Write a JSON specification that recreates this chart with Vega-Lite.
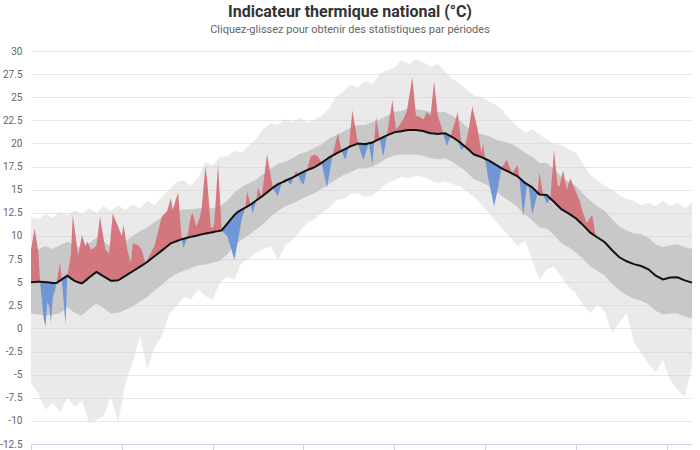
{
"$schema":"https://vega.github.io/schema/vega-lite/v6.json",
"width":661,"height":393,
"autosize":{"type":"none"},
"padding":{"left":31,"top":51,"right":8,"bottom":6},
"background":"white",
"title":{"text":"Indicateur thermique national (°C)","subtitle":"Cliquez-glissez pour obtenir des statistiques par périodes","anchor":"middle","dx":-11.5,"offset":11,"font":"Roboto","fontSize":16,"fontWeight":"bold","color":"#333333","subtitleFont":"Roboto","subtitleFontSize":11,"subtitleColor":"#666666","subtitlePadding":4},
"config":{"view":{"stroke":null},"axisY":{"labelOverlap":false,"labelBound":false,"labelFlush":false,"title":null,"grid":true,"gridColor":"#e6e6e6","ticks":false,"domain":false,"labelPadding":9,"labelColor":"#666666","labelFont":"Roboto","labelFontSize":10}},
"data":{"values":[
{"d":0,"n":5.0,"nlo":1.6,"nhi":8.2,"lo":-5.9,"hi":12.0,"a":8.5},
{"d":2,"n":5.02,"a":10.8},
{"d":4,"n":5.05,"nlo":1.5,"nhi":8.6,"lo":-7.0,"hi":11.8,"a":8.3},
{"d":5,"n":5.05,"a":5.1},
{"d":7,"n":5.02,"a":1.0},
{"d":8,"n":5.0,"nlo":1.4,"nhi":8.9,"lo":-8.8,"hi":12.4,"a":0.2},
{"d":9,"n":4.98,"a":2.8},
{"d":10,"n":4.96,"a":2.4},
{"d":11,"n":4.94,"a":0.6},
{"d":12,"n":4.92,"nlo":1.5,"nhi":8.6,"lo":-8.0,"hi":12.0,"a":3.4},
{"d":13,"n":4.91,"a":4.0},
{"d":14,"n":4.9,"a":4.9},
{"d":16,"n":5.17,"nlo":1.6,"nhi":9.0,"lo":-9.1,"hi":12.6,"a":7.1},
{"d":17,"n":5.3,"a":5.3},
{"d":19,"n":5.57,"a":0.4},
{"d":20,"n":5.7,"nlo":2.3,"nhi":9.4,"lo":-7.4,"hi":12.2,"a":5.7},
{"d":22,"n":5.41,"a":8.0},
{"d":23,"n":5.27,"a":12.3},
{"d":24,"n":5.13,"nlo":1.7,"nhi":9.0,"lo":-8.5,"hi":12.8},
{"d":26,"n":4.99,"a":7.8},
{"d":28,"n":4.86,"nlo":1.4,"nhi":8.7,"lo":-7.8,"hi":12.4,"a":10.1},
{"d":30,"n":5.17,"a":8.9},
{"d":31,"n":5.33,"a":9.4},
{"d":32,"n":5.5,"nlo":2.1,"nhi":9.2,"lo":-10.2,"hi":13.0},
{"d":33,"n":5.65,"a":8.5},
{"d":36,"n":6.1,"nlo":2.7,"nhi":9.8,"lo":-9.9,"hi":12.5,"a":8.9},
{"d":38,"n":5.86,"a":12.1},
{"d":40,"n":5.63,"nlo":2.2,"nhi":9.4,"lo":-9.5,"hi":13.2},
{"d":41,"n":5.51,"a":8.5},
{"d":43,"n":5.27,"a":8.1},
{"d":44,"n":5.15,"nlo":1.6,"nhi":8.8,"lo":-7.4,"hi":12.7},
{"d":45,"n":5.16,"a":12.4},
{"d":48,"n":5.2,"nlo":1.7,"nhi":9.1,"lo":-10.2,"hi":13.3,"a":11.0},
{"d":50,"n":5.44,"a":10.0},
{"d":51,"n":5.57,"a":11.2},
{"d":52,"n":5.69,"nlo":2.0,"nhi":9.4,"lo":-5.9,"hi":12.8},
{"d":53,"n":5.81,"a":8.5},
{"d":55,"n":6.05,"a":7.1},
{"d":56,"n":6.18,"nlo":2.4,"nhi":10.0,"lo":-3.7,"hi":13.4,"a":9.2},
{"d":59,"n":6.55,"a":9.0},
{"d":60,"n":6.68,"nlo":2.9,"nhi":10.5,"lo":-0.8,"hi":13.0},
{"d":61,"n":6.8,"a":8.5},
{"d":63,"n":7.05,"a":7.05},
{"d":64,"n":7.2,"nlo":3.4,"nhi":10.9,"lo":-4.5,"hi":13.8},
{"d":65,"n":7.35,"a":7.8},
{"d":68,"n":7.8,"nlo":4.1,"nhi":11.5,"lo":-2.0,"hi":13.3,"a":8.9},
{"d":72,"n":8.41,"nlo":4.7,"nhi":12.0,"lo":-0.9,"hi":14.2,"a":12.1},
{"d":75,"n":8.88,"a":12.7},
{"d":76,"n":9.04,"nlo":5.4,"nhi":12.5,"lo":1.5,"hi":15.0},
{"d":77,"n":9.2,"a":14.1},
{"d":78,"n":9.28,"a":12.8},
{"d":80,"n":9.43,"nlo":5.9,"nhi":12.7,"lo":2.4,"hi":15.8},
{"d":81,"n":9.5,"a":14.7},
{"d":83,"n":9.65,"a":9.65},
{"d":84,"n":9.7,"nlo":6.2,"nhi":12.9,"lo":3.4,"hi":16.0,"a":8.7},
{"d":86,"n":9.8,"a":9.8},
{"d":88,"n":9.9,"nlo":6.5,"nhi":12.9,"lo":3.1,"hi":15.4,"a":12.1},
{"d":89,"n":9.94,"a":12.5},
{"d":91,"n":10.03,"a":11.0},
{"d":92,"n":10.08,"nlo":6.8,"nhi":13.0,"lo":4.2,"hi":16.2},
{"d":93,"n":10.12,"a":12.0},
{"d":94,"n":10.17,"a":13.0},
{"d":96,"n":10.26,"nlo":6.9,"nhi":13.0,"lo":3.5,"hi":18.0,"a":17.5},
{"d":97,"n":10.3,"a":16.1},
{"d":99,"n":10.37,"a":11.0},
{"d":100,"n":10.41,"nlo":7.1,"nhi":13.0,"lo":3.1,"hi":17.6,"a":10.8},
{"d":101,"n":10.45,"a":11.5},
{"d":103,"n":10.52,"a":17.8},
{"d":104,"n":10.56,"nlo":7.3,"nhi":13.2,"lo":5.0,"hi":18.5},
{"d":105,"n":10.6,"a":10.6},
{"d":108,"n":11.31,"nlo":8.0,"nhi":13.8,"lo":5.6,"hi":18.6,"a":10.0},
{"d":110,"n":11.79,"a":8.8},
{"d":112,"n":12.26,"nlo":9.0,"nhi":14.7,"lo":5.3,"hi":19.2,"a":7.4},
{"d":114,"n":12.61,"a":9.5},
{"d":116,"n":12.84,"nlo":9.6,"nhi":15.3,"lo":7.1,"hi":19.0,"a":11.8},
{"d":118,"n":13.06,"a":13.06},
{"d":119,"n":13.17,"a":14.8},
{"d":120,"n":13.29,"nlo":10.1,"nhi":15.7,"lo":7.6,"hi":19.8},
{"d":121,"n":13.4,"a":13.4},
{"d":122,"n":13.54,"a":12.4},
{"d":124,"n":13.83,"nlo":10.7,"nhi":16.1,"lo":8.2,"hi":20.5,"a":13.83},
{"d":125,"n":13.97,"a":15.3},
{"d":127,"n":14.25,"a":14.25},
{"d":128,"n":14.4,"nlo":11.3,"nhi":16.7,"lo":8.6,"hi":21.6},
{"d":130,"n":14.71,"a":18.8},
{"d":132,"n":15.03,"nlo":12.1,"nhi":17.3,"lo":8.9,"hi":22.2},
{"d":133,"n":15.19,"a":15.4},
{"d":136,"n":15.59,"nlo":12.7,"nhi":17.8,"lo":7.4,"hi":22.0,"a":14.3},
{"d":138,"n":15.76,"a":15.76},
{"d":140,"n":15.94,"nlo":13.2,"nhi":18.0,"lo":9.0,"hi":22.6,"a":16.2},
{"d":141,"n":16.05,"a":16.05},
{"d":143,"n":16.22,"a":15.5},
{"d":144,"n":16.31,"nlo":13.5,"nhi":18.4,"lo":9.6,"hi":22.3},
{"d":145,"n":16.42,"a":16.42},
{"d":146,"n":16.53,"a":17.1},
{"d":147,"n":16.63,"a":16.63},
{"d":148,"n":16.74,"nlo":13.9,"nhi":18.9,"lo":10.5,"hi":22.8,"a":16.1},
{"d":150,"n":16.93,"a":15.5},
{"d":152,"n":17.11,"nlo":14.3,"nhi":19.1,"lo":11.4,"hi":22.2,"a":17.11},
{"d":154,"n":17.27,"a":18.6},
{"d":156,"n":17.42,"nlo":14.6,"nhi":19.5,"lo":11.8,"hi":22.6,"a":18.8},
{"d":158,"n":17.66,"a":18.6},
{"d":160,"n":17.91,"nlo":15.1,"nhi":19.9,"lo":12.5,"hi":23.0,"a":17.91},
{"d":163,"n":18.32,"a":15.2},
{"d":164,"n":18.46,"nlo":15.6,"nhi":20.5,"lo":13.0,"hi":23.8},
{"d":166,"n":18.68,"a":18.68},
{"d":168,"n":18.9,"nlo":16.1,"nhi":20.9,"lo":13.9,"hi":25.0},
{"d":169,"n":19.0,"a":21.1},
{"d":171,"n":19.2,"a":19.2},
{"d":172,"n":19.3,"nlo":16.6,"nhi":21.3,"lo":14.0,"hi":25.6},
{"d":173,"n":19.4,"a":18.2},
{"d":175,"n":19.6,"a":19.6},
{"d":176,"n":19.7,"nlo":16.9,"nhi":21.7,"lo":14.6,"hi":26.4},
{"d":177,"n":19.77,"a":23.6},
{"d":180,"n":19.99,"nlo":17.3,"nhi":22.0,"lo":14.6,"hi":26.0,"a":19.99},
{"d":183,"n":19.95,"a":18.2},
{"d":184,"n":19.93,"nlo":17.3,"nhi":22.0,"lo":14.2,"hi":26.8},
{"d":186,"n":20.02,"a":20.02},
{"d":188,"n":20.1,"nlo":17.5,"nhi":22.3,"lo":14.4,"hi":26.4,"a":17.7},
{"d":189,"n":20.2,"a":20.2},
{"d":190,"n":20.3,"a":22.9},
{"d":192,"n":20.5,"nlo":17.9,"nhi":22.6,"lo":15.0,"hi":27.5,"a":20.5},
{"d":194,"n":20.69,"a":18.6},
{"d":196,"n":20.88,"nlo":18.4,"nhi":23.0,"lo":15.7,"hi":27.9,"a":20.88},
{"d":199,"n":21.12,"a":24.7},
{"d":200,"n":21.2,"nlo":18.7,"nhi":23.4,"lo":16.0,"hi":28.2},
{"d":201,"n":21.23,"a":21.5},
{"d":203,"n":21.3,"a":22.0},
{"d":204,"n":21.33,"nlo":18.8,"nhi":23.5,"lo":16.4,"hi":29.0},
{"d":205,"n":21.37,"a":22.6},
{"d":207,"n":21.44,"a":23.5},
{"d":208,"n":21.47,"nlo":18.8,"nhi":23.8,"lo":16.2,"hi":28.6},
{"d":210,"n":21.46,"a":27.2},
{"d":212,"n":21.45,"nlo":18.8,"nhi":23.7,"lo":16.5,"hi":29.1,"a":23.0},
{"d":214,"n":21.4,"a":22.9},
{"d":216,"n":21.34,"nlo":18.7,"nhi":23.6,"lo":16.4,"hi":28.8,"a":22.6},
{"d":218,"n":21.22,"a":23.4},
{"d":220,"n":21.11,"nlo":18.4,"nhi":23.4,"lo":16.0,"hi":28.3,"a":23.0},
{"d":222,"n":21.07,"a":26.7},
{"d":224,"n":21.03,"nlo":18.3,"nhi":23.4,"lo":15.7,"hi":28.6,"a":23.0},
{"d":226,"n":21.07,"a":21.8},
{"d":227,"n":21.09,"a":21.09},
{"d":228,"n":21.1,"nlo":18.4,"nhi":23.4,"lo":15.9,"hi":27.8},
{"d":229,"n":21.0,"a":19.7},
{"d":231,"n":20.8,"a":20.8},
{"d":232,"n":20.7,"nlo":18.0,"nhi":23.0,"lo":15.6,"hi":27.0},
{"d":233,"n":20.56,"a":22.0},
{"d":235,"n":20.29,"a":23.4},
{"d":236,"n":20.15,"nlo":17.5,"nhi":22.5,"lo":15.4,"hi":26.5},
{"d":237,"n":19.99,"a":19.3},
{"d":239,"n":19.68,"a":19.68},
{"d":240,"n":19.52,"nlo":16.9,"nhi":21.8,"lo":14.8,"hi":25.8},
{"d":241,"n":19.34,"a":21.5},
{"d":243,"n":18.98,"a":24.0},
{"d":244,"n":18.8,"nlo":16.1,"nhi":21.2,"lo":14.2,"hi":25.2},
{"d":246,"n":18.67,"a":21.5},
{"d":248,"n":18.53,"nlo":15.8,"nhi":21.0,"lo":13.4,"hi":25.0,"a":19.0},
{"d":249,"n":18.44,"a":20.0},
{"d":250,"n":18.35,"a":18.35},
{"d":252,"n":18.17,"nlo":15.4,"nhi":20.8,"lo":12.5,"hi":24.6,"a":16.0},
{"d":255,"n":17.82,"a":13.2},
{"d":256,"n":17.7,"nlo":14.9,"nhi":20.4,"lo":11.6,"hi":24.2},
{"d":257,"n":17.58,"a":15.0},
{"d":259,"n":17.34,"a":17.34},
{"d":260,"n":17.22,"nlo":14.2,"nhi":20.2,"lo":10.7,"hi":23.5},
{"d":262,"n":17.04,"a":18.2},
{"d":264,"n":16.85,"nlo":13.7,"nhi":20.0,"lo":9.8,"hi":22.6},
{"d":265,"n":16.75,"a":16.75},
{"d":268,"n":16.43,"nlo":13.1,"nhi":19.6,"lo":8.9,"hi":21.8,"a":17.7},
{"d":269,"n":16.26,"a":16.26},
{"d":271,"n":15.91,"a":12.1},
{"d":272,"n":15.74,"nlo":12.3,"nhi":19.0,"lo":9.5,"hi":21.2},
{"d":273,"n":15.62,"a":15.3},
{"d":274,"n":15.5,"a":15.5},
{"d":276,"n":15.25,"nlo":11.7,"nhi":18.6,"lo":7.4,"hi":21.5,"a":12.3},
{"d":279,"n":14.67,"a":14.67},
{"d":280,"n":14.48,"nlo":10.9,"nhi":17.9,"lo":5.3,"hi":21.0,"a":16.9},
{"d":282,"n":14.45,"a":14.45},
{"d":284,"n":14.42,"nlo":10.8,"nhi":17.9,"lo":6.4,"hi":20.4,"a":13.5},
{"d":286,"n":14.06,"a":14.06},
{"d":288,"n":13.7,"nlo":10.1,"nhi":17.2,"lo":6.7,"hi":20.0,"a":19.3},
{"d":290,"n":13.3,"a":15.5},
{"d":291,"n":13.1,"a":15.3},
{"d":292,"n":12.89,"nlo":9.2,"nhi":16.4,"lo":5.6,"hi":19.8},
{"d":293,"n":12.78,"a":17.1},
{"d":295,"n":12.55,"a":15.0},
{"d":296,"n":12.44,"nlo":8.8,"nhi":15.9,"lo":4.5,"hi":19.4},
{"d":297,"n":12.31,"a":16.2},
{"d":299,"n":12.04,"a":15.3},
{"d":300,"n":11.91,"nlo":8.2,"nhi":15.4,"lo":3.8,"hi":19.0},
{"d":302,"n":11.54,"a":13.9},
{"d":304,"n":11.17,"nlo":7.5,"nhi":14.6,"lo":2.5,"hi":17.8,"a":12.5},
{"d":306,"n":10.76,"a":11.4},
{"d":308,"n":10.35,"nlo":6.7,"nhi":13.8,"lo":1.7,"hi":16.6},
{"d":309,"n":10.22,"a":12.3},
{"d":311,"n":9.96,"a":9.96},
{"d":312,"n":9.83,"nlo":6.2,"nhi":13.2,"lo":2.6,"hi":16.0},
{"d":316,"n":9.32,"nlo":5.7,"nhi":12.7,"lo":1.8,"hi":15.4},
{"d":320,"n":8.45,"nlo":4.8,"nhi":11.8,"lo":-0.5,"hi":15.0},
{"d":324,"n":7.69,"nlo":4.1,"nhi":11.0,"lo":0.6,"hi":14.4},
{"d":328,"n":7.26,"nlo":3.6,"nhi":10.6,"lo":1.7,"hi":14.0},
{"d":332,"n":6.95,"nlo":3.2,"nhi":10.3,"lo":-1.5,"hi":13.8},
{"d":336,"n":6.75,"nlo":3.0,"nhi":10.2,"lo":-2.6,"hi":13.3},
{"d":340,"n":6.4,"nlo":2.6,"nhi":9.8,"lo":-3.8,"hi":13.6},
{"d":344,"n":5.7,"nlo":1.9,"nhi":9.1,"lo":-4.8,"hi":13.2},
{"d":348,"n":5.3,"nlo":1.5,"nhi":8.8,"lo":-3.4,"hi":13.8},
{"d":352,"n":5.5,"nlo":1.6,"nhi":9.0,"lo":-5.6,"hi":13.2},
{"d":356,"n":5.52,"nlo":1.6,"nhi":9.1,"lo":-6.6,"hi":13.6},
{"d":360,"n":5.19,"nlo":1.3,"nhi":8.8,"lo":-7.4,"hi":13.0},
{"d":364,"n":4.95,"nlo":1.1,"nhi":8.6,"lo":-4.1,"hi":13.6}
]},
"encoding":{"x":{"field":"d","type":"quantitative","scale":{"domain":[0,364],"nice":false,"zero":false},"axis":{"title":null,"labels":false,"grid":false,"values":[0,50,100,150,200,250,300,350],"ticks":true,"tickSize":8,"tickColor":"#ccd6eb","domainColor":"#ccd6eb"}},
"y":{"field":"n","type":"quantitative","title":null,"scale":{"domain":[-12.5,30],"nice":false,"zero":false},"axis":{"title":null,"values":[-12.5,-10,-7.5,-5,-2.5,0,2.5,5,7.5,10,12.5,15,17.5,20,22.5,25,27.5,30],"labelExpr":"datum.value + ''","labelOverlap":false,"labelBound":false,"labelFlush":false}}},
"layer":[
{"transform":[{"filter":"isValid(datum.lo)"}],"mark":{"type":"area","color":"#d6d6d6","opacity":0.5},
 "encoding":{"y":{"field":"hi","type":"quantitative","title":null,"scale":{"domain":[-12.5,30],"nice":false,"zero":false},"axis":{"title":null,"values":[-12.5,-10,-7.5,-5,-2.5,0,2.5,5,7.5,10,12.5,15,17.5,20,22.5,25,27.5,30],"labelExpr":"datum.value + ''","labelOverlap":false,"labelBound":false,"labelFlush":false}},"y2":{"field":"lo"}}},
{"transform":[{"filter":"isValid(datum.nlo)"}],"mark":{"type":"area","color":"#c8c8c8","opacity":1},
 "encoding":{"y":{"field":"nhi","type":"quantitative","title":null,"axis":{"title":null,"values":[-12.5,-10,-7.5,-5,-2.5,0,2.5,5,7.5,10,12.5,15,17.5,20,22.5,25,27.5,30],"labelExpr":"datum.value + ''","labelOverlap":false,"labelBound":false,"labelFlush":false}},"y2":{"field":"nlo"}}},
{"transform":[{"filter":"isValid(datum.a)"},{"fold":["a","n"],"as":["k","v"]},{"aggregate":[{"op":"max","field":"v","as":"top"},{"op":"min","field":"v","as":"bot"}],"groupby":["d","n"]}],
 "layer":[
  {"mark":{"type":"area","color":"#d4727a","opacity":0.95},"encoding":{"y":{"field":"top","type":"quantitative","title":null,"axis":{"title":null,"values":[-12.5,-10,-7.5,-5,-2.5,0,2.5,5,7.5,10,12.5,15,17.5,20,22.5,25,27.5,30],"labelExpr":"datum.value + ''","labelOverlap":false,"labelBound":false,"labelFlush":false}},"y2":{"field":"n"}}},
  {"mark":{"type":"area","color":"#6b93d6","opacity":0.95},"encoding":{"y":{"field":"bot","type":"quantitative","title":null,"axis":{"title":null,"values":[-12.5,-10,-7.5,-5,-2.5,0,2.5,5,7.5,10,12.5,15,17.5,20,22.5,25,27.5,30],"labelExpr":"datum.value + ''","labelOverlap":false,"labelBound":false,"labelFlush":false}},"y2":{"field":"n"}}}
 ]},
{"mark":{"type":"line","color":"#111111","strokeWidth":2}}
]
}
